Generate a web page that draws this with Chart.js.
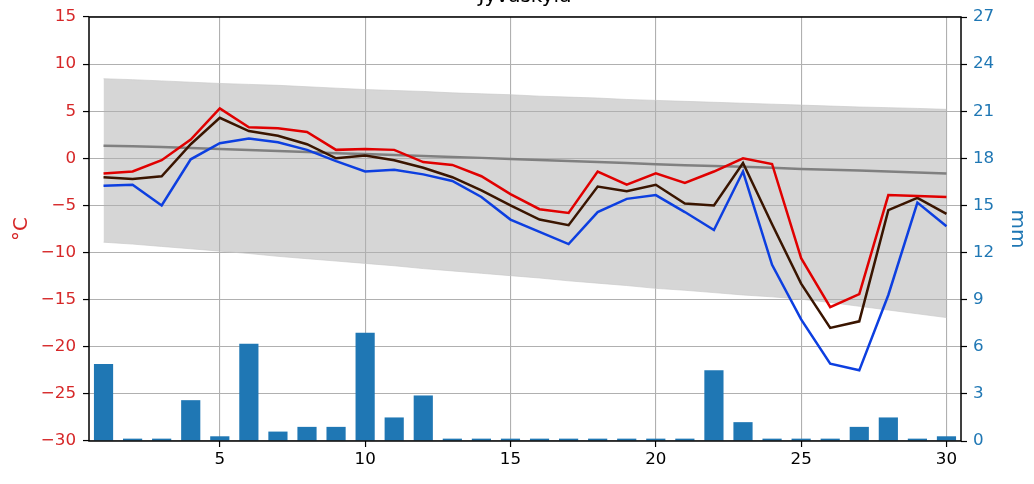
<!DOCTYPE html>
<html>
<head>
<meta charset="utf-8">
<script src="https://cdn.jsdelivr.net/npm/chart.js@4.4.1/dist/chart.umd.min.js"></script>
<style>
html, body { margin: 0; padding: 0; background: #ffffff; }
#wrap { width: 1034px; height: 484px; position: relative; }
</style>
</head>
<body>
<div id="wrap"><canvas id="c"></canvas></div>
<script>
// ---- data ----
const days = ['1','2','3','4','5','6','7','8','9','10','11','12','13','14','15','16','17','18','19','20','21','22','23','24','25','26','27','28','29','30'];
const tempMax  = [-1.6,-1.4,-0.2, 2.0, 5.3, 3.3, 3.2, 2.8, 0.9, 1.0, 0.9,-0.4,-0.7,-1.9,-3.8,-5.4,-5.8,-1.4,-2.8,-1.6,-2.6,-1.4, 0.0,-0.6,-10.6,-15.8,-14.4,-3.9,-4.0,-4.1];
const tempMean = [-2.0,-2.2,-1.9, 1.5, 4.3, 2.9, 2.4, 1.5, 0.0, 0.3,-0.2,-1.0,-2.0,-3.4,-5.0,-6.5,-7.1,-3.0,-3.5,-2.8,-4.8,-5.0,-0.5,-7.0,-13.3,-18.0,-17.3,-5.5,-4.2,-5.9];
const tempMin  = [-2.9,-2.8,-5.0,-0.1, 1.6, 2.1, 1.7, 0.9,-0.3,-1.4,-1.2,-1.7,-2.4,-4.1,-6.5,-7.8,-9.1,-5.7,-4.3,-3.9,-5.7,-7.6,-1.4,-11.3,-17.1,-21.8,-22.5,-14.5,-4.7,-7.2];
const normalMean  = [1.35,1.28,1.2,1.1,0.98,0.88,0.78,0.68,0.55,0.45,0.35,0.25,0.15,0.05,-0.08,-0.18,-0.28,-0.38,-0.5,-0.62,-0.72,-0.8,-0.9,-1.0,-1.12,-1.2,-1.3,-1.4,-1.5,-1.6];
const normalUpper = [8.45,8.35,8.22,8.08,7.95,7.85,7.75,7.6,7.45,7.3,7.2,7.1,6.95,6.85,6.75,6.6,6.5,6.4,6.25,6.15,6.05,5.95,5.85,5.75,5.65,5.55,5.45,5.38,5.3,5.2];
const normalLower = [-8.9,-9.1,-9.35,-9.6,-9.85,-10.1,-10.4,-10.65,-10.9,-11.15,-11.4,-11.7,-11.95,-12.2,-12.45,-12.7,-13.0,-13.25,-13.5,-13.8,-14.0,-14.25,-14.5,-14.7,-14.95,-15.3,-15.7,-16.1,-16.5,-16.9];
const precip = [4.9,0.15,0.15,2.6,0.3,6.2,0.6,0.9,0.9,6.9,1.5,2.9,0.15,0.15,0.15,0.15,0.15,0.15,0.15,0.15,0.15,4.5,1.2,0.15,0.15,0.15,0.9,1.5,0.15,0.3];
const xTickDays = ['5','10','15','20','25','30'];
const chartTitle = 'Jyväskylä';
const tempAxisTitle = '°C';
const precipAxisTitle = 'mm';

// ---- styling ----
const FONT = 'DejaVu Sans';
const RED_TXT = '#d62728';
const BLUE_TXT = '#1f77b4';
const GRID = '#b0b0b0';

const decorPlugin = {
  id: 'decor',
  afterDatasetsDraw(chart) {
    const { ctx, chartArea: a } = chart;
    ctx.save();
    ctx.strokeStyle = '#000';
    ctx.lineWidth = 1.5;
    ctx.strokeRect(a.left, a.top, a.right - a.left, a.bottom - a.top);
    ctx.restore();
  },
  afterDraw(chart) {
    const { ctx, chartArea: a } = chart;
    ctx.save();
    ctx.fillStyle = '#000';
    ctx.font = '20px "' + FONT + '"';
    ctx.textAlign = 'center';
    ctx.textBaseline = 'alphabetic';
    ctx.fillText(chartTitle, (a.left + a.right) / 2, 2);
    ctx.restore();
  }
};

const showX = (i) => xTickDays.includes(days[i]);

new Chart(document.getElementById('c'), {
  type: 'bar',
  data: {
    labels: days,
    datasets: [
      { type: 'line', data: tempMax, yAxisID: 'y', borderColor: '#e00000', borderWidth: 2.5, pointRadius: 0, tension: 0, fill: false, order: 1 },
      { type: 'line', data: tempMean, yAxisID: 'y', borderColor: '#3a1500', borderWidth: 2.5, pointRadius: 0, tension: 0, fill: false, order: 2 },
      { type: 'line', data: tempMin, yAxisID: 'y', borderColor: '#0d3fe0', borderWidth: 2.5, pointRadius: 0, tension: 0, fill: false, order: 3 },
      { type: 'line', data: normalMean, yAxisID: 'y', borderColor: '#808080', borderWidth: 2.5, pointRadius: 0, tension: 0, fill: false, order: 4 },
      { type: 'line', data: normalUpper, yAxisID: 'y', borderColor: 'rgba(200,200,200,0.8)', borderWidth: 0.8, backgroundColor: '#d6d6d6', pointRadius: 0, tension: 0, fill: '+1', order: 8 },
      { type: 'line', data: normalLower, yAxisID: 'y', borderColor: 'rgba(200,200,200,0.8)', borderWidth: 0.8, pointRadius: 0, tension: 0, fill: false, order: 8 },
      { type: 'bar', data: precip, yAxisID: 'y2', backgroundColor: '#1f77b4', borderWidth: 0, barPercentage: 0.66, categoryPercentage: 1.0, order: 6 }
    ]
  },
  options: {
    responsive: true,
    maintainAspectRatio: false,
    animation: false,
    devicePixelRatio: 1,
    layout: { padding: { top: 13, left: 0, right: 0, bottom: 0 } },
    plugins: {
      legend: { display: false },
      tooltip: { enabled: false },
      title: { display: false },
      filler: { drawTime: 'beforeDraw', propagate: false }
    },
    scales: {
      x: {
        type: 'category',
        offset: true,
        border: { display: false },
        grid: {
          offset: false,
          color: (c) => showX(c.index) ? GRID : 'rgba(0,0,0,0)',
          lineWidth: 1.1,
          drawTicks: true,
          tickLength: 6,
          tickWidth: 1.2,
          tickColor: (c) => showX(c.index) ? '#000' : 'rgba(0,0,0,0)'
        },
        ticks: {
          autoSkip: false,
          maxRotation: 0,
          minRotation: 0,
          padding: 3,
          color: '#000',
          font: { family: FONT, size: 16.7 },
          callback: (v, i) => showX(i) ? days[i] : ''
        },
        afterFit: (s) => { s.height = 43; }
      },
      y: {
        position: 'left',
        min: -30,
        max: 15,
        border: { display: false },
        grid: { color: GRID, lineWidth: 1.1, drawTicks: true, tickLength: 6, tickWidth: 1.2, tickColor: '#000' },
        ticks: {
          stepSize: 5,
          padding: 7,
          color: RED_TXT,
          font: { family: FONT, size: 16.7 },
          callback: (v) => String(v).replace('-', '\u2212')
        },
        title: { display: true, text: tempAxisTitle, color: RED_TXT, font: { family: FONT, size: 20 }, padding: { top: 9.4, bottom: 0 } },
        afterFit: (s) => { s.width = 89; }
      },
      y2: {
        position: 'right',
        min: 0,
        max: 27,
        border: { display: false },
        grid: { drawOnChartArea: false, drawTicks: true, tickLength: 6, tickWidth: 1.2, tickColor: '#000', color: GRID },
        ticks: {
          stepSize: 3,
          padding: 6,
          color: BLUE_TXT,
          font: { family: FONT, size: 16.7 }
        },
        title: { display: true, text: precipAxisTitle, color: BLUE_TXT, font: { family: FONT, size: 20 }, padding: { top: 4.4, bottom: 0 } },
        afterFit: (s) => { s.width = 73; }
      }
    }
  },
  plugins: [decorPlugin]
});
</script>
</body>
</html>
